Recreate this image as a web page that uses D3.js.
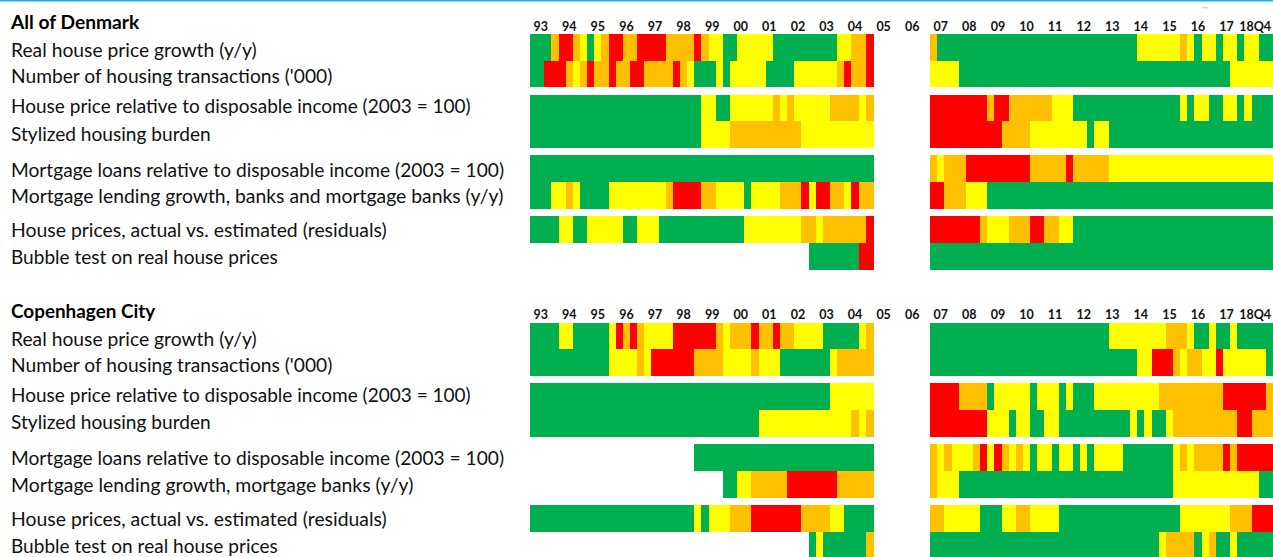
<!DOCTYPE html>
<html>
<head>
<meta charset="utf-8">
<script src="https://cdn.jsdelivr.net/npm/d3@7"></script>
<style>
  html, body { margin: 0; padding: 0; background: #fff; }
  svg { display: block; }
</style>
</head>
<body>
<svg id="chart" width="1273" height="557"></svg>
<script>
// ---------- DATA ----------
// Years shown on the time axis (1993-2018), quarterly cells
const years = ["93","94","95","96","97","98","99","00","01","02","03","04","05","06","07","08","09","10","11","12","13","14","15","16","17","18"];
const yearTickLabels = ["93","94","95","96","97","98","99","00","01","02","03","04","05","06","07","08","09","10","11","12","13","14","15","16","17","18Q4"];

// Risk level per quarter: G = green, Y = yellow, O = orange, R = red, - = no data
// Groups of 4 quarters per year, 1993 ... 2018
const panelTitles = ["All of Denmark", "Copenhagen City"];

const dkLabels = [
  "Real house price growth (y/y)",
  "Number of housing transactions ('000)",
  "House price relative to disposable income (2003 = 100)",
  "Stylized housing burden",
  "Mortgage loans relative to disposable income (2003 = 100)",
  "Mortgage lending growth, banks and mortgage banks (y/y)",
  "House prices, actual vs. estimated (residuals)",
  "Bubble test on real house prices"
];
const cphLabels = [
  "Real house price growth (y/y)",
  "Number of housing transactions ('000)",
  "House price relative to disposable income (2003 = 100)",
  "Stylized housing burden",
  "Mortgage loans relative to disposable income (2003 = 100)",
  "Mortgage lending growth, mortgage banks (y/y)",
  "House prices, actual vs. estimated (residuals)",
  "Bubble test on real house prices"
];

//                93   94   95   96   97   98   99   00   01   02   03   04   05   06   07   08   09   10   11   12   13   14   15   16   17   18
const dkRealPriceGrowth   = "GGGO RROY GYOR ROOR RRRO OOOR OYYG GYYY YYGG GGGG GGGY YOOR ---- ---- OGGG GGGG GGGG GGGG GGGG GGGG GGGG GYYY YYYO YGYY GYYG YYGG";
const dkTransactions      = "GGRR ROYO ROOR OORR OOOO ROYG GGYG YYYY YGGG GYYY YYYO ROOR ---- ---- YYYY GGGG GGGG GGGG GGGG GGGG GGGG GGGG GGGG GGGG GGYY YYYY";
const dkPriceToIncome     = "GGGG GGGG GGGG GGGG GGGG GGGG YYGG YYYY YYOY OYYY YYOO OOYO ---- ---- RRRR RRRR ORRO OOOO OYYY GGGG GGGG GGGG GGGY GYYG GYYG YGGG";
const dkHousingBurden     = "GGGG GGGG GGGG GGGG GGGG GGGG YYYY OOOO OOOO OOYY YYYY YYYY ---- ---- RRRR RRRR RROO OOYY YYYY YYGY YGGG GGGG GGGG GGGG GGGG GGGG";
const dkLoansToIncome     = "GGGG GGGG GGGG GGGG GGGG GGGG GGGG GGGG GGGG GGGG GGGG GGGG ---- ---- OYOO ORRR RRRR RROO OOOR OOOO OYYY YYYY YYYY YYYY YYYY YYYY";
const dkLendingGrowth     = "GGGY YOYG GGGY YYYY YYYO RRRR OOYY YYGY YYYO OORY RROO YROO ---- ---- RROO OYYY GGGG GGGG GGGG GGGG GGGG GGGG GGGG GGGG GGGG GGGG";
const dkResiduals         = "GGGG YYGG YYYY YGGY YYGG GGGG GGGG GGYY YYYY YYOO YOOO OOOR ---- ---- RRRR RRRO YYYO OORR OOYY GGGG GGGG GGGG GGGG GGGG GGGG GGGG";
const dkBubbleTest        = "---- ---- ---- ---- ---- ---- ---- ---- ---- ---G GGGG GGRR ---- ---- GGGG GGGG GGGG GGGG GGGG GGGG GGGG GGGG GGGG GGGG GGGG GGGG";

const cphRealPriceGrowth  = "GGGG YYGG GGGY RORO YYYY RRRR RROY OOOR OORO OYYY YGGG GGYO ---- ---- GGGG GGGG GGGG GGGG GGGG GGGG GYYY YYYY YOOO YGGY GGYG GGGG";
const cphTransactions     = "GGGG GGGG GGGY YYYO YRRR RRRO OOOY YYYO YYYG GGGG GGYO OOOO ---- ---- GGGG GGGG GGGG GGGG GGGG GGGG GGGG GYYR RROY OOYY RYYY YYYG";
const cphPriceToIncome    = "GGGG GGGG GGGG GGGG GGGG GGGG GGGG GGGG GGGG GGGG GGYY YYYY ---- ---- RRRR OOOO GYYY YYGY YYGY GGGY YYYY YYYY OOOO OOOO ORRR RRRO";
const cphHousingBurden    = "GGGG GGGG GGGG GGGG GGGG GGGG GGGG GGGG YYYY YYYY YYYY YOYO ---- ---- RRRR RRRR YYYG YYGG YYGG GGGG GGGG YGYG GYOO OOOO OOOR ROOO";
const cphLoansToIncome    = "---- ---- ---- ---- ---- ---G GGGG GGGG GGGG GGGG GGGG GGGG ---- ---- OYOY YYOR YROY OYGY YGYY GYGY YYYG GGGG GGYO YOOO OROR RRRR";
const cphLendingGrowth    = "---- ---- ---- ---- ---- ---- ---G GYYO OOOO RRRR RRRO OOOO ---- ---- OYYY GGGG GGGG GGGG GGGG GGGG GGGG GGGG GGYY YYYY YYYY YYGG";
const cphResiduals        = "GGGG GGGG GGGG GGGG GGGG GGGY GYYY OOOR RRRR RROO OOYY GGGG ---- ---- OOYY YYYG GGYY OOYY YYGG GGGG GGGG GGGG GGGY YYYY YYOO ORRR";
const cphBubbleTest       = "---- ---- ---- ---- ---- ---- ---- ---- ---- ---G YGGG GGGO ---- ---- GGGG GGGG GGGG GGGG GGGG GGGG GGGG GGGG YOOO OGYO GGYG GGGG";

const dkSeries  = [dkRealPriceGrowth, dkTransactions, dkPriceToIncome, dkHousingBurden, dkLoansToIncome, dkLendingGrowth, dkResiduals, dkBubbleTest];
const cphSeries = [cphRealPriceGrowth, cphTransactions, cphPriceToIncome, cphHousingBurden, cphLoansToIncome, cphLendingGrowth, cphResiduals, cphBubbleTest];

const levelColors = { G: "#00b050", Y: "#ffff00", O: "#ffc000", R: "#ff0000" };

// ---------- LAYOUT ----------
const W = 1273, H = 557;
const svg = d3.select("#chart");
const FONT = "Lato, 'Open Sans', 'DejaVu Sans', sans-serif";

const quarters = [];
years.forEach(y => { for (let q = 1; q <= 4; q++) quarters.push(y + "Q" + q); });

const x = d3.scaleBand().domain(quarters).range([530, 1273]).paddingInner(0).paddingOuter(0);
const color = d3.scaleOrdinal().domain(Object.keys(levelColors)).range(Object.values(levelColors));

const panelTops = [34, 322.7];
const rowH = 26.7, groupStep = 60.7;
const rowY = i => Math.floor(i / 2) * groupStep + (i % 2) * rowH;
// label baselines relative to panel top
const labelBase = [23, 49.3, 79.3, 106.5, 142.7, 169.3, 203.3, 230];
const labelWidths = {
  "Real house price growth (y/y)": 245.7,
  "Number of housing transactions ('000)": 321.3,
  "House price relative to disposable income (2003 = 100)": 459.7,
  "Stylized housing burden": 199.7,
  "Mortgage loans relative to disposable income (2003 = 100)": 493,
  "Mortgage lending growth, banks and mortgage banks (y/y)": 492.3,
  "House prices, actual vs. estimated (residuals)": 375.7,
  "Bubble test on real house prices": 266.7,
  "Mortgage lending growth, mortgage banks (y/y)": 402.3,
  "All of Denmark": 128.3,
  "Copenhagen City": 144.3
};

// top rule
svg.append("rect").attr("x", 0).attr("y", 0).attr("width", W).attr("height", 1.5).attr("fill", "#29a8df");
svg.append("rect").attr("x", 1202).attr("y", 7.3).attr("width", 6).attr("height", 1).attr("fill", "#c8c8c8");

const panels = [
  { title: panelTitles[0], labels: dkLabels, series: dkSeries },
  { title: panelTitles[1], labels: cphLabels, series: cphSeries }
];

panels.forEach((p, pi) => {
  const top = panelTops[pi];
  const g = svg.append("g").attr("transform", `translate(0,${top})`);

  // title
  g.append("text")
    .attr("x", 11).attr("y", -5)
    .attr("font-family", FONT).attr("font-size", 18.5).attr("font-weight", 700)
    .attr("fill", "#000")
    .attr("textLength", labelWidths[p.title]).attr("lengthAdjust", "spacingAndGlyphs")
    .text(p.title);

  // year labels
  g.selectAll("text.yr").data(years).join("text")
    .attr("class", "yr")
    .attr("x", (d) => x(d + "Q2") + x.bandwidth() / 2)
    .attr("y", -3.5)
    .attr("text-anchor", "middle")
    .attr("font-family", FONT).attr("font-size", 12.5).attr("font-weight", 700)
    .attr("fill", "#111")
    .text((d, i) => yearTickLabels[i]);

  // row labels
  g.selectAll("text.lbl").data(p.labels).join("text")
    .attr("class", "lbl")
    .attr("x", 11)
    .attr("y", (d, i) => labelBase[i])
    .attr("font-family", FONT).attr("font-size", 18.5)
    .attr("fill", "#111")
    .attr("textLength", d => labelWidths[d]).attr("lengthAdjust", "spacingAndGlyphs")
    .text(d => d);

  // cells
  p.series.forEach((s, ri) => {
    const codes = s.replace(/ /g, "").split("");
    const cells = codes.map((c, qi) => ({ q: quarters[qi], c })).filter(d => d.c !== "-");
    g.append("g").attr("shape-rendering", "crispEdges")
      .selectAll("rect").data(cells).join("rect")
      .attr("x", d => x(d.q))
      .attr("y", rowY(ri))
      .attr("width", x.bandwidth() + 0.6)
      .attr("height", rowH + (ri % 2 === 0 ? 0.4 : 0))
      .attr("fill", d => color(d.c));
  });
});
</script>
</body>
</html>
